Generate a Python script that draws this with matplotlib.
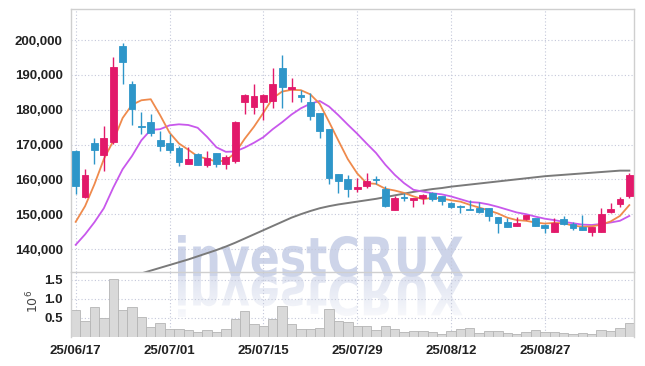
import matplotlib
matplotlib.use("Agg")
import matplotlib.pyplot as plt
import numpy as np
from matplotlib.path import Path
from matplotlib.patches import PathPatch
from matplotlib.textpath import TextPath
from matplotlib.font_manager import FontProperties
from matplotlib.colors import to_rgb

# daily candles, 25/06/17 .. 25/09/10 (60 trading days)
opens = [168200, 154900, 170400, 167000, 170600, 198200, 187300, 175300, 176600, 171200,
         170300, 168900, 164500, 167400, 164100, 167500, 164500, 165300, 182100, 180900,
         182100, 182400, 191900, 185900, 184300, 182100, 179000, 174400, 161600, 160000,
         157100, 158000, 160200, 157300, 151300, 154800, 154100, 154700, 156100, 155100,
         153200, 152300, 151600, 151800, 151800, 149100, 147800, 146700, 148500, 148800,
         146900, 144900, 148500, 147200, 146400, 145000, 145000, 150700, 152800, 155300]
highs = [168300, 162900, 172000, 175400, 195200, 199000, 188100, 179200, 178700, 173900,
         173000, 169600, 169300, 167700, 168000, 167700, 167000, 176800, 184500, 187300,
         184500, 192100, 195800, 189000, 185600, 184700, 179000, 174400, 161600, 161300,
         160300, 161900, 160900, 158000, 155300, 156100, 154700, 155900, 156300, 155300,
         153400, 152500, 154000, 153400, 151800, 149300, 148800, 149100, 149900, 149000,
         147100, 148800, 149400, 147800, 149700, 146400, 151700, 153300, 154800, 161700]
lows = [155700, 154500, 164300, 162400, 170100, 187500, 175600, 173000, 172500, 168200,
        167700, 163900, 164300, 164000, 163600, 163400, 162900, 164800, 178900, 178900,
        177000, 180400, 180400, 182100, 182100, 177000, 172000, 158800, 156200, 154900,
        156300, 157500, 158800, 152100, 151100, 153900, 152100, 153000, 153700, 152700,
        151800, 150200, 151100, 150300, 147900, 144700, 146200, 146600, 148300, 146600,
        144500, 144800, 146900, 145400, 145400, 143700, 144800, 150200, 152100, 154500]
closes = [158100, 161200, 168500, 172000, 192300, 193800, 180200, 175100, 173400, 169600,
          168500, 165000, 165800, 164100, 166200, 164500, 166500, 176600, 184200, 183900,
          184200, 187500, 186400, 186400, 183500, 178200, 173900, 160300, 159500, 157100,
          157800, 159600, 159700, 152300, 154500, 154500, 154500, 155600, 154400, 153700,
          152000, 152100, 151300, 150500, 149400, 147500, 146400, 147600, 149700, 146700,
          145900, 147500, 147100, 146100, 145600, 146200, 150000, 151500, 154300, 161200]

# volume in millions
volume = [0.71, 0.43, 0.78, 0.50, 1.53, 0.71, 0.78, 0.53, 0.27, 0.37,
          0.22, 0.22, 0.18, 0.12, 0.18, 0.14, 0.22, 0.48, 0.69, 0.35,
          0.30, 0.46, 0.82, 0.33, 0.20, 0.22, 0.24, 0.73, 0.41, 0.38,
          0.28, 0.30, 0.19, 0.30, 0.22, 0.14, 0.16, 0.16, 0.12, 0.09,
          0.16, 0.21, 0.23, 0.11, 0.16, 0.17, 0.11, 0.08, 0.13, 0.18,
          0.12, 0.13, 0.10, 0.08, 0.11, 0.08, 0.18, 0.16, 0.23, 0.36]

# moving averages as shown on the chart
ma5 = [147800, 152300, 158600, 165800, 171000, 177600, 181400, 182700, 183000, 178400,
       173400, 170300, 168500, 166600, 165900, 165100, 165400, 167600, 171600, 175100,
       179100, 183300, 185200, 185700, 185600, 184400, 181700, 176500, 171100, 165800,
       161700, 158900, 158700, 157300, 156800, 156100, 155100, 154300, 154700, 154500,
       154000, 153600, 152700, 151900, 151100, 150200, 149000, 148300, 148100, 147600,
       147300, 147500, 147400, 146700, 146400, 146500, 147000, 147900, 149500, 152600]
ma10 = [141200, 144200, 147700, 151700, 157600, 162900, 166700, 171200, 174200, 174400,
        175500, 175800, 175600, 174800, 172200, 169200, 167900, 168000, 169100, 170500,
        172100, 174400, 176400, 178600, 180400, 181700, 182500, 180900, 178400, 175700,
        173100, 170300, 167600, 164200, 161300, 158900, 157000, 156500, 156000, 155700,
        155100, 154300, 153500, 153300, 152800, 152100, 151300, 150500, 150000, 149300,
        148700, 148300, 147800, 147400, 147000, 146900, 147200, 147600, 148100, 149500]
ma60 = [127400, 128200, 129000, 129800, 130600, 131400, 132200, 133000, 133800, 134600,
        135400, 136200, 137000, 137900, 138800, 139700, 140700, 141800, 143000, 144200,
        145400, 146600, 147800, 149000, 150000, 150900, 151700, 152300, 152800, 153200,
        153600, 154000, 154400, 154900, 155400, 155900, 156400, 156800, 157200, 157500,
        157900, 158200, 158500, 158800, 159100, 159400, 159700, 160000, 160300, 160600,
        160900, 161100, 161300, 161500, 161700, 161900, 162100, 162300, 162500, 162500]

tick_pos = [0, 10, 20, 30, 40, 50]
tick_labels = ["25/06/17", "25/07/01", "25/07/15", "25/07/29", "25/08/12", "25/08/27"]
price_ticks = [140000, 150000, 160000, 170000, 180000, 190000, 200000]
vol_ticks = [0.5, 1.0, 1.5]

RED = "#e2196a"
BLUE = "#2e96c9"
GRID = "#c4c8da"
SPINE = "#cfcfcf"
TXT = "#222222"
WM = "#cdd4e9"

plt.rcParams["font.family"] = ["Liberation Sans", "DejaVu Sans"]

W, H = 645, 366
fig = plt.figure(figsize=(W / 100, H / 100), dpi=100)

# watermark layer (behind the chart panes), data coords = pixels
bg = fig.add_axes([0, 0, 1, 1], zorder=0)
tp = TextPath((0, 0), "investCRUX", size=50,
              prop=FontProperties(family="DejaVu Sans", weight="bold"))
ext = tp.get_extents()
sx = 285 / ext.width
sy = 41 / ext.y1
v = tp.vertices.copy()
v[:, 0] = (v[:, 0] - ext.x0) * sx + 178
main_v = v.copy()
main_v[:, 1] = v[:, 1] * sy + (H - 276)
refl_v = v.copy()
refl_v[:, 1] = -v[:, 1] * sy + (H - 276)
bg.add_patch(PathPatch(Path(main_v, tp.codes), fc=WM, ec="none"))
refl = PathPatch(Path(refl_v, tp.codes), fc="none", ec="none")
bg.add_patch(refl)
grad = np.zeros((100, 1, 4))
grad[..., :3] = to_rgb(WM)
grad[:, 0, 3] = np.linspace(0.65, 0.1, 100)
im = bg.imshow(grad, extent=(170, 470, H - 276 - 45, H - 276), origin="upper",
               aspect="auto", interpolation="bilinear")
im.set_clip_path(refl)
bg.set_xlim(0, W)
bg.set_ylim(0, H)
bg.axis("off")

ax = fig.add_axes([71 / W, 1 - 272 / H, 563 / W, 263 / H], facecolor="none", zorder=1)
axv = fig.add_axes([71 / W, 1 - 337 / H, 563 / W, 65 / H], facecolor="none", zorder=1,
                   sharex=ax)

x = np.arange(len(closes))
o = np.array(opens)
c = np.array(closes)
cols = np.where(c >= o, RED, BLUE)

ax.plot(x, ma60, color="#7a7a7a", lw=1.4, zorder=2)
ax.plot(x, ma10, color="#c858ec", lw=1.3, zorder=2)
ax.plot(x, ma5, color="#ef8a4c", lw=1.3, zorder=2)
ax.vlines(x, lows, highs, colors=cols, lw=1.0, zorder=3)
ax.bar(x, np.abs(c - o), bottom=np.minimum(o, c), width=0.72, color=cols,
       edgecolor=cols, linewidth=0.6, zorder=4)

ax.set_xlim(-0.5, len(x) - 0.5)
ax.set_ylim(133400, 208900)
ax.set_yticks(price_ticks)
ax.set_yticklabels([f"{p:,}" for p in price_ticks])
ax.set_xticks(tick_pos)
ax.grid(True, color=GRID, linestyle=(0, (1, 2)), linewidth=0.8)
ax.tick_params(axis="both", length=0, labelbottom=False)
ax.tick_params(axis="y", pad=6, labelsize=9.5, labelcolor=TXT)
for lab in ax.get_yticklabels():
    lab.set_fontweight("bold")
for s in ax.spines.values():
    s.set_color(SPINE)
    s.set_linewidth(1.0)

axv.bar(x, volume, width=1.0, color="#d9d9d9", edgecolor="#b5b5b5", linewidth=0.6, zorder=2)
axv.set_ylim(0, 1.7)
axv.set_yticks(vol_ticks)
axv.set_yticklabels([f"{t:.1f}" for t in vol_ticks])
axv.set_xticks(tick_pos)
axv.set_xticklabels(tick_labels)
axv.grid(True, color=GRID, linestyle=(0, (1, 2)), linewidth=0.8)
axv.tick_params(axis="both", length=0, labelsize=9.5, labelcolor=TXT)
axv.tick_params(axis="y", pad=6)
axv.tick_params(axis="x", pad=6)
for lab in axv.get_yticklabels() + axv.get_xticklabels():
    lab.set_fontweight("bold")
for s in axv.spines.values():
    s.set_color(SPINE)
    s.set_linewidth(1.0)
axv.spines["top"].set_visible(False)
axv.spines["bottom"].set_visible(False)

fig.text(33 / W, 1 - 301 / H, r"$10^6$", rotation=90, ha="center", va="center",
         fontsize=9, color="#444444")

fig.savefig("out.png", dpi=100, facecolor="white")
